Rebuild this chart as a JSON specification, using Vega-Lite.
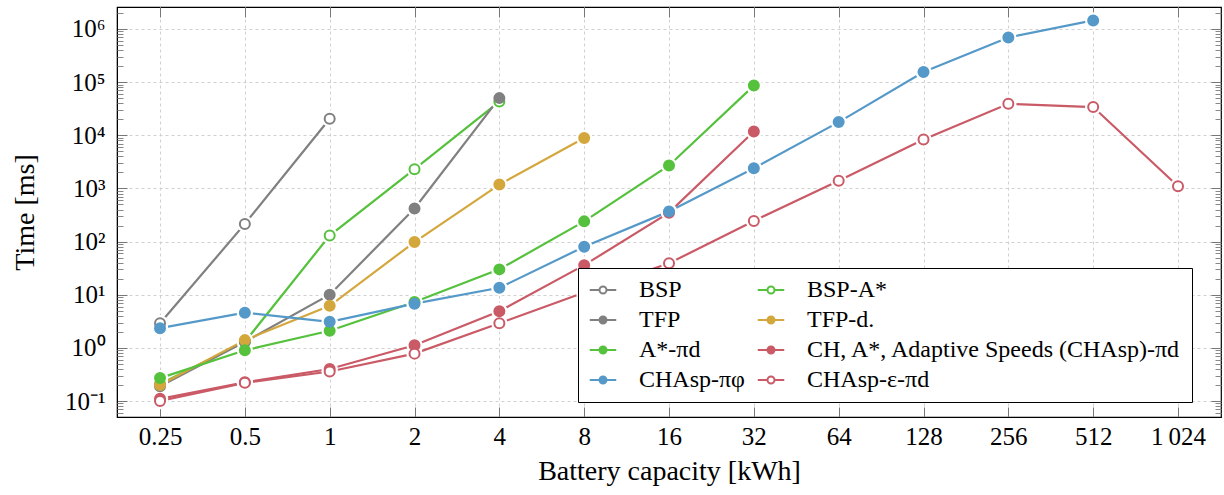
{
  "$schema": "https://vega.github.io/schema/vega-lite/v6.json",
  "width": 1104,
  "height": 410,
  "autosize": "none",
  "padding": {"left": 117, "top": 7, "right": 3, "bottom": 78},
  "background": "white",
  "config": {
    "view": {"stroke": "black", "strokeWidth": 1.2},
    "font": "Liberation Serif",
    "axis": {"domainColor": "black", "tickColor": "#555555", "labelColor": "black", "titleColor": "black", "labelFont": "Liberation Serif", "titleFont": "Liberation Serif", "titleFontWeight": "normal"},
    "legend": {"title": null, "orient": "none", "legendX": 461, "legendY": 261, "columns": 2, "direction": "horizontal",
      "symbolType": "M -2.65 0 L -0.75 0 M 0.75 0 L 2.65 0 M 0.7 0 A 0.7 0.7 0 1 1 -0.7 0 A 0.7 0.7 0 1 1 0.7 0 Z",
      "symbolSize": 400, "symbolStrokeWidth": 2, "symbolOffset": 3, "labelOffset": 24,
      "labelFont": "Liberation Serif", "labelFontSize": 24, "labelLimit": 700, "labelColor": "black",
      "rowPadding": 6, "columnPadding": 8, "padding": 10, "fillColor": "white", "strokeColor": "black", "cornerRadius": 0, "symbolOpacity": 1}
  },
  "data": {
    "values": [
      {"c": 0.25, "t": 2.9, "s": "BSP"},
      {"c": 0.5, "t": 215, "s": "BSP"},
      {"c": 1, "t": 20500, "s": "BSP"},
      {"c": 0.25, "t": 0.21, "s": "BSP-A*"},
      {"c": 0.5, "t": 1.3, "s": "BSP-A*"},
      {"c": 1, "t": 130, "s": "BSP-A*"},
      {"c": 2, "t": 2300, "s": "BSP-A*"},
      {"c": 4, "t": 43000, "s": "BSP-A*"},
      {"c": 0.25, "t": 0.19, "s": "TFP"},
      {"c": 0.5, "t": 1.3, "s": "TFP"},
      {"c": 1, "t": 10, "s": "TFP"},
      {"c": 2, "t": 420, "s": "TFP"},
      {"c": 4, "t": 50000, "s": "TFP"},
      {"c": 0.25, "t": 0.2, "s": "TFP-d."},
      {"c": 0.5, "t": 1.4, "s": "TFP-d."},
      {"c": 1, "t": 6.2, "s": "TFP-d."},
      {"c": 2, "t": 98, "s": "TFP-d."},
      {"c": 4, "t": 1180, "s": "TFP-d."},
      {"c": 8, "t": 8900, "s": "TFP-d."},
      {"c": 0.25, "t": 0.27, "s": "A*-πd"},
      {"c": 0.5, "t": 0.9, "s": "A*-πd"},
      {"c": 1, "t": 2.1, "s": "A*-πd"},
      {"c": 2, "t": 7.3, "s": "A*-πd"},
      {"c": 4, "t": 30, "s": "A*-πd"},
      {"c": 8, "t": 240, "s": "A*-πd"},
      {"c": 16, "t": 2700, "s": "A*-πd"},
      {"c": 32, "t": 86000, "s": "A*-πd"},
      {"c": 0.25, "t": 0.11, "s": "CH, A*, Adaptive Speeds (CHAsp)-πd"},
      {"c": 0.5, "t": 0.225, "s": "CH, A*, Adaptive Speeds (CHAsp)-πd"},
      {"c": 1, "t": 0.4, "s": "CH, A*, Adaptive Speeds (CHAsp)-πd"},
      {"c": 2, "t": 1.12, "s": "CH, A*, Adaptive Speeds (CHAsp)-πd"},
      {"c": 4, "t": 4.9, "s": "CH, A*, Adaptive Speeds (CHAsp)-πd"},
      {"c": 8, "t": 36, "s": "CH, A*, Adaptive Speeds (CHAsp)-πd"},
      {"c": 16, "t": 350, "s": "CH, A*, Adaptive Speeds (CHAsp)-πd"},
      {"c": 32, "t": 11800, "s": "CH, A*, Adaptive Speeds (CHAsp)-πd"},
      {"c": 0.25, "t": 2.35, "s": "CHAsp-πφ"},
      {"c": 0.5, "t": 4.6, "s": "CHAsp-πφ"},
      {"c": 1, "t": 3.1, "s": "CHAsp-πφ"},
      {"c": 2, "t": 6.8, "s": "CHAsp-πφ"},
      {"c": 4, "t": 13.5, "s": "CHAsp-πφ"},
      {"c": 8, "t": 80, "s": "CHAsp-πφ"},
      {"c": 16, "t": 370, "s": "CHAsp-πφ"},
      {"c": 32, "t": 2400, "s": "CHAsp-πφ"},
      {"c": 64, "t": 17700, "s": "CHAsp-πφ"},
      {"c": 128, "t": 155000, "s": "CHAsp-πφ"},
      {"c": 256, "t": 690000, "s": "CHAsp-πφ"},
      {"c": 512, "t": 1450000, "s": "CHAsp-πφ"},
      {"c": 0.25, "t": 0.1, "s": "CHAsp-ε-πd"},
      {"c": 0.5, "t": 0.22, "s": "CHAsp-ε-πd"},
      {"c": 1, "t": 0.36, "s": "CHAsp-ε-πd"},
      {"c": 2, "t": 0.78, "s": "CHAsp-ε-πd"},
      {"c": 4, "t": 2.9, "s": "CHAsp-ε-πd"},
      {"c": 8, "t": 11, "s": "CHAsp-ε-πd"},
      {"c": 16, "t": 39, "s": "CHAsp-ε-πd"},
      {"c": 32, "t": 245, "s": "CHAsp-ε-πd"},
      {"c": 64, "t": 1400, "s": "CHAsp-ε-πd"},
      {"c": 128, "t": 8300, "s": "CHAsp-ε-πd"},
      {"c": 256, "t": 39000, "s": "CHAsp-ε-πd"},
      {"c": 512, "t": 34000, "s": "CHAsp-ε-πd"},
      {"c": 1024, "t": 1100, "s": "CHAsp-ε-πd"}
    ]
  },
  "resolve": {"axis": {"x": "independent", "y": "independent"}},
  "layer": [
    {
      "mark": {"type": "line", "strokeWidth": 2.2},
      "encoding": {
        "x": {"field": "c", "type": "quantitative",
          "scale": {"type": "log", "base": 2, "domain": [0.1759, 1455], "nice": false, "zero": false},
          "axis": {"orient": "bottom", "title": "Battery capacity [kWh]", "titleFontSize": 28, "titlePadding": 8,
            "values": [0.25, 0.5, 1, 2, 4, 8, 16, 32, 64, 128, 256, 512, 1024],
            "labelExpr": "datum.value == 1024 ? '1\u2009024' : toString(datum.value)",
            "labelFontSize": 25, "labelPadding": 17, "tickSize": -10, "tickColor": "#777777",
            "grid": true, "gridColor": "#d0d0d0", "gridDash": [3, 3], "gridWidth": 1, "domainColor": "black"}},
        "y": {"field": "t", "type": "quantitative",
          "scale": {"type": "log", "domain": [0.0501, 2590000], "nice": false, "zero": false},
          "axis": {"orient": "left", "title": "Time [ms]", "titleFontSize": 28, "titlePadding": 25,
            "values": [0.1, 1, 10, 100, 1000, 10000, 100000, 1000000],
            "labelExpr": "datum.value < 0.5 ? '10⁻¹' : datum.value < 5 ? '10⁰' : datum.value < 50 ? '10¹' : datum.value < 500 ? '10²' : datum.value < 5000 ? '10³' : datum.value < 50000 ? '10⁴' : datum.value < 500000 ? '10⁵' : '10⁶'",
            "labelFontSize": 25, "labelPadding": 22, "tickSize": -10, "tickColor": "#777777",
            "grid": true, "gridColor": "#d0d0d0", "gridDash": [3, 3], "gridWidth": 1, "domainColor": "black"}},
        "stroke": {"field": "s", "type": "nominal",
          "scale": {"domain": ["BSP", "BSP-A*", "TFP", "TFP-d.", "A*-πd", "CH, A*, Adaptive Speeds (CHAsp)-πd", "CHAsp-πφ", "CHAsp-ε-πd"],
            "range": ["#808080", "#55c13c", "#808080", "#d4a73c", "#55c13c", "#c95a66", "#5599c9", "#c95a66"]},
          "legend": {"title": null}},
        "order": {"field": "c", "type": "quantitative"}
      }
    },
    {
      "mark": {"type": "point", "filled": true, "fill": "white", "opacity": 1, "strokeWidth": 0, "size": 270},
      "encoding": {
        "x": {"field": "c", "type": "quantitative",
          "axis": {"orient": "top", "title": null, "labels": false, "grid": false, "domain": false,
            "values": [0.25, 0.5, 1, 2, 4, 8, 16, 32, 64, 128, 256, 512, 1024], "tickSize": -10, "tickColor": "#777777"}},
        "y": {"field": "t", "type": "quantitative",
          "axis": {"orient": "right", "title": null, "labels": false, "grid": false, "domain": false,
            "values": [0.1, 1, 10, 100, 1000, 10000, 100000, 1000000], "tickSize": -10, "tickColor": "#777777"}}
      }
    },
    {
      "mark": {"type": "point", "filled": true, "opacity": 1, "strokeWidth": 2},
      "encoding": {
        "x": {"field": "c", "type": "quantitative", "axis": null},
        "y": {"field": "t", "type": "quantitative",
          "axis": {"orient": "left", "title": null, "labels": false, "grid": false, "domain": false, "tickSize": -6, "tickColor": "#888888",
            "values": [0.06, 0.07, 0.08, 0.09, 0.2, 0.3, 0.4, 0.5, 0.6, 0.7, 0.8, 0.9, 2, 3, 4, 5, 6, 7, 8, 9, 20, 30, 40, 50, 60, 70, 80, 90, 200, 300, 400, 500, 600, 700, 800, 900, 2000, 3000, 4000, 5000, 6000, 7000, 8000, 9000, 20000, 30000, 40000, 50000, 60000, 70000, 80000, 90000, 200000, 300000, 400000, 500000, 600000, 700000, 800000, 900000, 2000000]}},
        "stroke": {"field": "s", "type": "nominal", "legend": {"title": null}},
        "fill": {"field": "s", "type": "nominal",
          "scale": {"domain": ["BSP", "BSP-A*", "TFP", "TFP-d.", "A*-πd", "CH, A*, Adaptive Speeds (CHAsp)-πd", "CHAsp-πφ", "CHAsp-ε-πd"],
            "range": ["#ffffff", "#ffffff", "#808080", "#d4a73c", "#55c13c", "#c95a66", "#5599c9", "#ffffff"]},
          "legend": {"title": null}},
        "size": {"field": "s", "type": "nominal",
          "scale": {"domain": ["BSP", "BSP-A*", "TFP", "TFP-d.", "A*-πd", "CH, A*, Adaptive Speeds (CHAsp)-πd", "CHAsp-πφ", "CHAsp-ε-πd"],
            "range": [100, 100, 180, 180, 180, 180, 180, 100]},
          "legend": null}
      }
    },
    {
      "mark": {"type": "point", "opacity": 0},
      "encoding": {
        "x": {"field": "c", "type": "quantitative", "axis": null},
        "y": {"field": "t", "type": "quantitative",
          "axis": {"orient": "right", "title": null, "labels": false, "grid": false, "domain": false, "tickSize": -6, "tickColor": "#888888",
            "values": [0.06, 0.07, 0.08, 0.09, 0.2, 0.3, 0.4, 0.5, 0.6, 0.7, 0.8, 0.9, 2, 3, 4, 5, 6, 7, 8, 9, 20, 30, 40, 50, 60, 70, 80, 90, 200, 300, 400, 500, 600, 700, 800, 900, 2000, 3000, 4000, 5000, 6000, 7000, 8000, 9000, 20000, 30000, 40000, 50000, 60000, 70000, 80000, 90000, 200000, 300000, 400000, 500000, 600000, 700000, 800000, 900000, 2000000]}}
      }
    }
  ]
}
